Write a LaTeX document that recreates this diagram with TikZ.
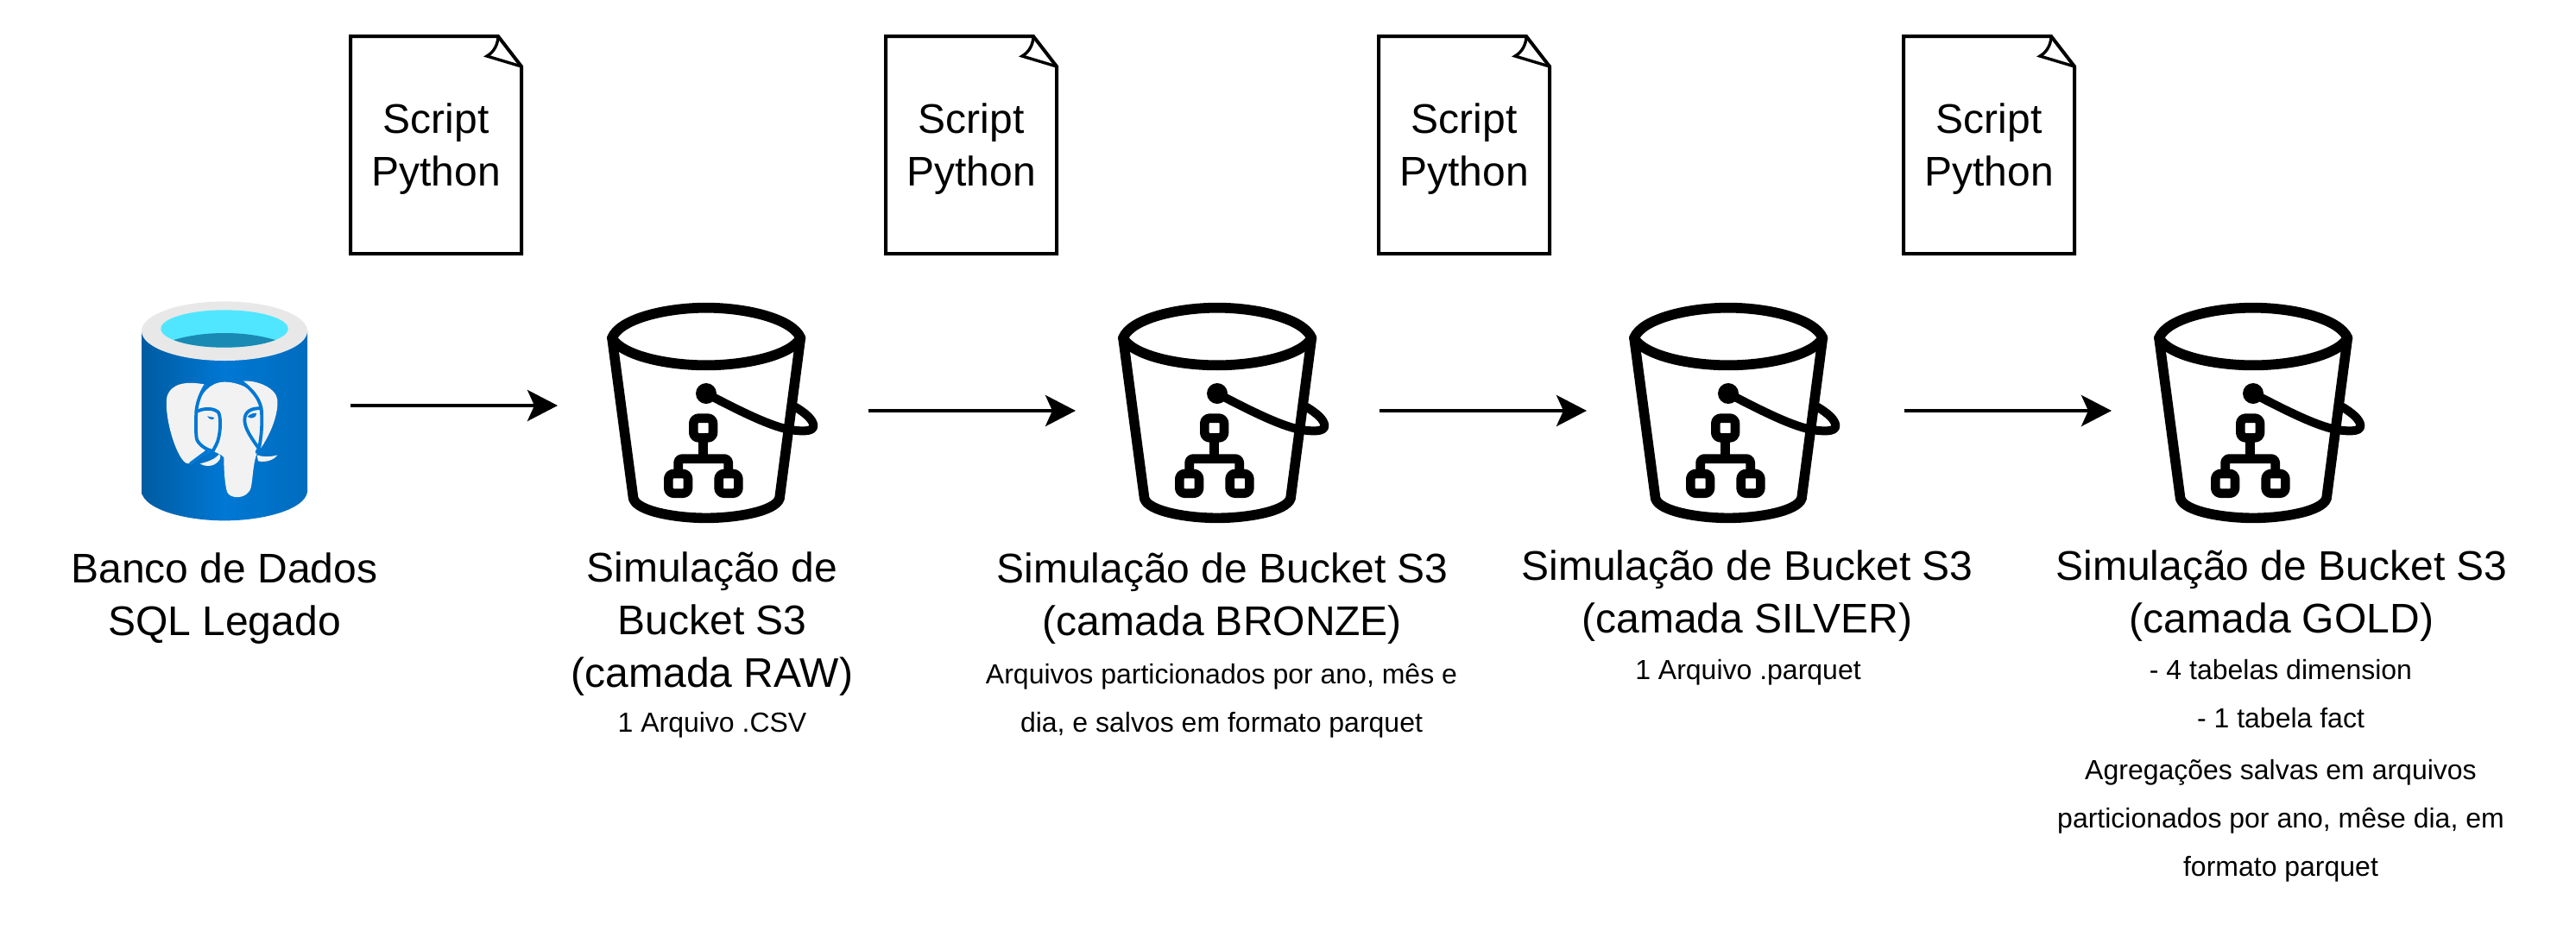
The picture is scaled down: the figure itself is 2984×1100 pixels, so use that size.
\documentclass[tikz,border=0pt]{standalone}
\usepackage{fontspec}
\setmainfont{Liberation Sans}
\usetikzlibrary{arrows.meta}
\definecolor{pgL}{HTML}{005BA1}
\definecolor{pgM}{HTML}{0078D4}
\definecolor{pgR}{HTML}{006CBE}
\definecolor{pgRim}{HTML}{E8E8E8}
\definecolor{pgCy}{HTML}{50E6FF}
\definecolor{pgDk}{HTML}{198AB3}
\definecolor{pgEl}{HTML}{F2F2F2}
\tikzset{
  big/.style={font=\fontsize{24pt}{30.5pt}\selectfont,align=center,inner sep=0pt,anchor=base},
  small/.style={font=\fontsize{16pt}{28pt}\selectfont,align=center,inner sep=0pt,anchor=base},
  flow/.style={line width=2pt,-{Stealth[length=17.5pt,width=18pt,inset=4pt]}},
  zoomunits/.style={x=0.16667pt,y=-0.16667pt},
  bucketicon/.pic={
    \begin{scope}[zoomunits,xshift=-79.17pt,line join=round,line cap=round]
      \draw[line width=5.9pt] (148,212) .. controls (175,145) and (335,107) .. (475,107)
        .. controls (615,107) and (775,145) .. (803,212)
        .. controls (770,272) and (615,307) .. (475,307)
        .. controls (335,307) and (180,272) .. (148,212) -- cycle;
      \draw[line width=5.8pt] (148,212) -- (222,770)
        .. controls (235,815) and (370,838) .. (475,838)
        .. controls (580,838) and (715,815) .. (730,770) -- (803,212);
      \fill (475,405) circle (36);
      \draw[line width=5pt] (475,405) .. controls (590,465) and (690,515) .. (760,530)
        .. controls (800,537) and (848,540) .. (848,518)
        .. controls (848,495) and (815,470) .. (785,452);
      \draw[line width=5.33pt,rounded corners=3pt] (431,491) rectangle (499,559);
      \draw[line width=5.33pt,rounded corners=3pt] (344,684) rectangle (412,752);
      \draw[line width=5.33pt,rounded corners=3pt] (519,684) rectangle (587,752);
      \draw[line width=5.33pt,line cap=butt] (465,570) -- (465,632);
      \draw[line width=5.33pt,line cap=butt,rounded corners=2pt] (378,675) -- (378,632) -- (552,632) -- (552,675);
    \end{scope}
  },
  docicon/.pic={
    \draw[line width=2pt,miter limit=10,fill=white] (0,0) -- (171,0) -- (198,35) -- (198,252) -- (0,252) -- cycle;
    \draw[line width=1.7pt,line join=miter] (171,0) .. controls (171,8) and (167,18) .. (158,23) -- (198,35);
  },
  pgicon/.pic={
    \begin{scope}[zoomunits]
      % body
      \shade[left color=pgL,right color=pgR,middle color=pgM,shading angle=90]
        (192,250) -- (192,810) .. controls (200,870) and (340,910) .. (480,910)
        .. controls (620,910) and (760,870) .. (768,810) -- (768,250) -- cycle;
      % rim
      \fill[pgRim] (480,251) ellipse [x radius=288,y radius=103];
      \fill[pgCy] (480,243) ellipse [x radius=221,y radius=65];
      \begin{scope}
        \clip (480,243) ellipse [x radius=221,y radius=65];
        \fill[pgDk] (300,283) .. controls (360,265) and (420,258) .. (480,258)
          .. controls (540,258) and (600,265) .. (660,283) -- (660,320) -- (300,320) -- cycle;
      \end{scope}
      % elephant: ears, head and trunk
      \fill[pgEl] (415,437) .. controls (350,425) and (295,430) .. (280,480)
        .. controls (270,540) and (305,670) .. (340,705)
        .. controls (350,716) and (362,712) .. (372,702) -- (420,660) -- (400,460) -- cycle;
      \fill[pgEl] (540,425) .. controls (595,420) and (660,450) .. (664,490)
        .. controls (668,540) and (640,610) .. (605,660) -- (590,480) -- cycle;
      \fill[pgEl] (480,428) .. controls (430,428) and (395,470) .. (385,520)
        .. controls (380,570) and (378,620) .. (395,645)
        .. controls (415,665) and (460,670) .. (478,690)
        .. controls (478,740) and (482,790) .. (490,812)
        .. controls (500,835) and (560,838) .. (572,795)
        .. controls (580,760) and (578,700) .. (600,660)
        .. controls (612,610) and (615,530) .. (605,495)
        .. controls (585,455) and (530,428) .. (480,428) -- cycle;
      % tusks
      \fill[pgEl] (395,712) .. controls (425,705) and (450,695) .. (462,678)
        .. controls (472,690) and (462,705) .. (445,715)
        .. controls (430,722) and (410,722) .. (395,712) -- cycle;
      \fill[pgEl] (593,682) .. controls (615,690) and (645,688) .. (664,682)
        .. controls (650,702) and (620,708) .. (597,703) -- cycle;
      % elephant: lines
      \begin{scope}[line width=1.9pt,line cap=round,line join=round]
        \draw[pgM] (415,438) .. controls (395,470) and (385,500) .. (382,530)
          .. controls (380,570) and (380,620) .. (385,630)
          .. controls (395,650) and (420,665) .. (440,668);
        \draw[pgM] (385,530) .. controls (410,518) and (445,518) .. (460,535)
          .. controls (470,560) and (465,620) .. (452,645) -- (440,668)
          -- (405,680) -- (362,712);
        \draw[pgM] (540,428) .. controls (570,450) and (600,480) .. (608,520)
          .. controls (612,560) and (610,610) .. (600,660)
          .. controls (575,625) and (550,590) .. (550,560)
          .. controls (550,530) and (575,518) .. (605,520);
        \fill[pgM] (420,547) -- (445,552) .. controls (442,562) and (428,560) .. (420,547) -- cycle;
        \fill[pgM] (560,548) .. controls (570,538) and (585,535) .. (592,537)
          .. controls (590,555) and (570,558) .. (560,548) -- cycle;
        \draw[pgM] (600,660) -- (592,672);
      \end{scope}
    \end{scope}
  }
}
\begin{document}
\begin{tikzpicture}[x=0.5pt,y=-0.5pt]
  \useasboundingbox (0,0) rectangle (2984,1100);

  % source
  \pic at (100,300) {pgicon};
  \node[big] (srcl) at (260,736) {Banco de Dados\\SQL Legado};

  % script documents
  \pic at (406,42) {docicon};
  \pic at (1026,42) {docicon};
  \pic at (1597,42) {docicon};
  \pic at (2205,42) {docicon};
  \node[big] (d1) at (505,215) {Script\\Python};
  \node[big] (d2) at (1125,215) {Script\\Python};
  \node[big] (d3) at (1696,215) {Script\\Python};
  \node[big] (d4) at (2304,215) {Script\\Python};

  % buckets
  \pic at (818,321) {bucketicon};
  \pic at (1410,321) {bucketicon};
  \pic at (2002,321) {bucketicon};
  \pic at (2610,321) {bucketicon};

  % connectors
  \coordinate (a1s) at (406,470);  \coordinate (a1e) at (646,470);
  \coordinate (a2s) at (1006,476); \coordinate (a2e) at (1246,476);
  \coordinate (a3s) at (1598,476); \coordinate (a3e) at (1838,476);
  \coordinate (a4s) at (2206,476); \coordinate (a4e) at (2446,476);
  \draw[flow] (a1s) -- (a1e);
  \draw[flow] (a2s) -- (a2e);
  \draw[flow] (a3s) -- (a3e);
  \draw[flow] (a4s) -- (a4e);

  % labels
  \node[big] (t1) at (825,796) {Simulação de\\Bucket S3\\(camada RAW)};
  \node[small] (s1) at (825,848) {1 Arquivo .CSV};
  \node[big] (t2) at (1416,736) {Simulação de Bucket S3\\(camada BRONZE)};
  \node[small] (s2) at (1415,848) {Arquivos particionados por ano, mês e\\dia, e salvos em formato parquet};
  \node[big] (t3) at (2024,733) {Simulação de Bucket S3\\(camada SILVER)};
  \node[small] (s3) at (2025,787) {1 Arquivo .parquet};
  \node[big] (t4) at (2643,733) {Simulação de Bucket S3\\(camada GOLD)};
  \node[small] (s4) at (2642,843) {- 4 tabelas dimension\\- 1 tabela fact};
  \node[small] (s5) at (2642,1015) {Agregações salvas em arquivos\\particionados por ano, mêse dia, em\\formato parquet};
\end{tikzpicture}
\end{document}
